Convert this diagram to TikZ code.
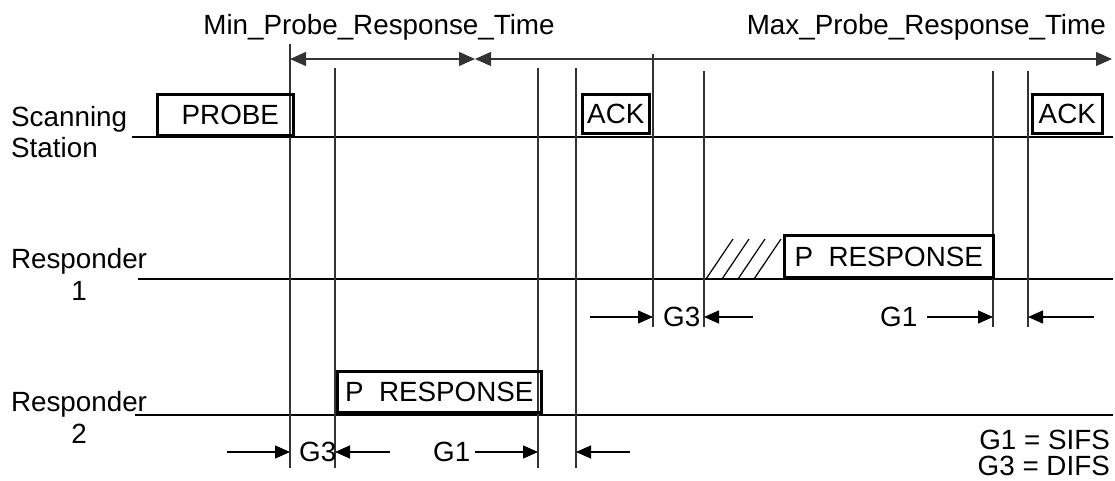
\documentclass[tikz,border=0pt]{standalone}
\usepackage{fontspec}
\setmainfont{Liberation Sans}
\usepackage{tikz}
\usetikzlibrary{arrows.meta,positioning,calc}
\newcommand{\diagfont}{\fontsize{27.8}{32}\selectfont}
\tikzset{
  framebox/.style={
    draw,line width=2.6pt,inner sep=0pt,minimum height=41pt,
    anchor=south west,font=\diagfont
  },
  lbl/.style={inner sep=0pt,font=\diagfont},
  stationline/.style={line width=1.2pt},
  markline/.style={line width=1.2pt,draw=black!80},
  gaparrow/.style={-{Triangle[length=15pt,width=13pt]},line width=1.2pt},
  spanarrow/.style={
    {Triangle[length=16pt,width=14pt]}-{Triangle[length=16pt,width=14pt]},
    line width=1.2pt,draw=black!80
  },
  hatchline/.style={line width=1.2pt}
}

\begin{document}
\begin{tikzpicture}[x=1pt,y=-1pt]
  \useasboundingbox (0,0) rectangle (1115,481);
  % station time lines
  \draw[stationline] (132,137) -- (1113,137);
  \draw[stationline] (138,279) -- (1113,279);
  \draw[stationline] (135,415) -- (1113,415);
  \node[lbl,anchor=base west,align=left] (scan) at (11,158) {Scanning\\Station};
  \node[lbl,anchor=base,align=center] (resp1) at (79,300) {Responder\\1};
  \node[lbl,anchor=base,align=center] (resp2) at (79,443) {Responder\\2};
  % time marks
  \foreach \n/\x/\t/\b in {1/290/44/468, 2/335/68/468, 3/538/68/468, 4/576/68/468,
                           5/653/54/327, 6/704/71/327, 7/993/71/327, 8/1028/71/327}{
    \coordinate (v\n t) at (\x,\t);
    \coordinate (v\n b) at (\x,\b);
    \draw[markline] (v\n t) -- (v\n b);
  }
  % frames
  \node[framebox,minimum width=136pt] (probe) at (156,137) {\hspace*{10pt}PROBE};
  \node[framebox,minimum width=67pt,minimum height=39pt] (ack1) at (581,135) {ACK};
  \node[framebox,minimum width=70pt,minimum height=39pt] (ack2) at (1031,135) {ACK};
  \node[framebox,minimum width=209pt,minimum height=42pt] (presp1) at (783,279) {P~~RESPONSE};
  \node[framebox,minimum width=204pt] (presp2) at (336,414) {P~~RESPONSE};
  \foreach \dx in {0,16,32,48}
    \draw[hatchline] (706+\dx,279) -- (733+\dx,239);
  % response time limits
  \coordinate (split) at (475,59);
  \coordinate (spanend) at (1112,59);
  \draw[spanarrow] (v1t |- split) -- (split);
  \draw[spanarrow] (split) -- (spanend);
  \node[lbl,anchor=base] (mintime) at (379,35) {Min\_Probe\_Response\_Time};
  \node[lbl,anchor=base east] (maxtime) at (1106,35) {Max\_Probe\_Response\_Time};
  % gaps, responder 1
  \coordinate (a5) at (590,317);
  \coordinate (a6) at (753,317);
  \coordinate (a7) at (927,317);
  \coordinate (a8) at (1094,317);
  \draw[gaparrow] (a5) -- (a5 -| v5t);
  \draw[gaparrow] (a6) -- (a6 -| v6t);
  \draw[gaparrow] (a7) -- (a7 -| v7t);
  \draw[gaparrow] (a8) -- (a8 -| v8t);
  \node[lbl,anchor=base west] (g3a) at (663,326) {G3};
  \node[lbl,anchor=base west] (g1a) at (880,326) {G1};
  % gaps, responder 2
  \coordinate (a1) at (227,452);
  \coordinate (a2) at (390,452);
  \coordinate (a3) at (475,452);
  \coordinate (a4) at (630,452);
  \draw[gaparrow] (a1) -- (a1 -| v1t);
  \draw[gaparrow] (a2) -- (a2 -| v2t);
  \draw[gaparrow] (a3) -- (a3 -| v3t);
  \draw[gaparrow] (a4) -- (a4 -| v4t);
  \node[lbl,anchor=base west] (g3b) at (299,461) {G3};
  \node[lbl,anchor=base west] (g1b) at (433,461) {G1};
  % legend
  \node[lbl,anchor=base east] (sifs) at (1110,449) {G1 = SIFS};
  \node[lbl,anchor=base east] (difs) at (1110,475) {G3 = DIFS};
\end{tikzpicture}
\end{document}
